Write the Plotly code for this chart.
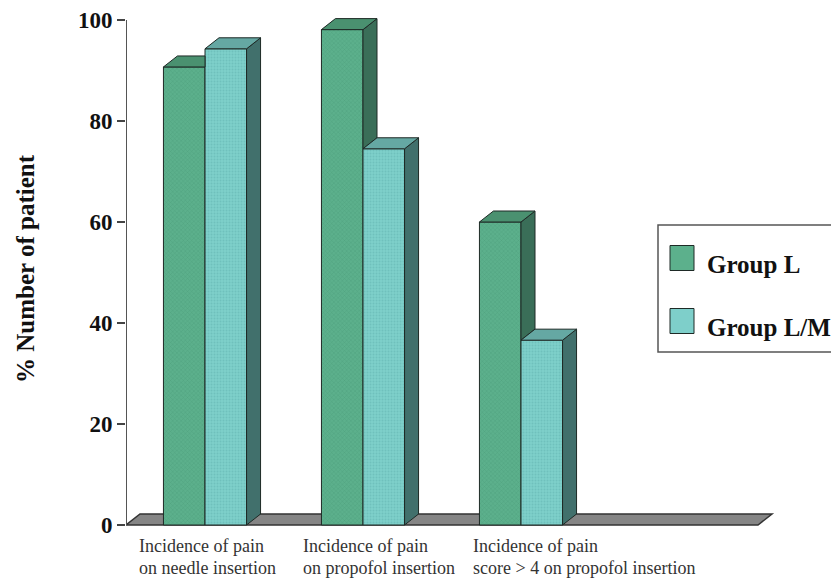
import plotly.graph_objects as go

# ---- data ----
categories = [
    ["Incidence of pain", "on needle insertion"],
    ["Incidence of pain", "on propofol insertion"],
    ["Incidence of pain", "score > 4 on propofol insertion"],
]
series_names = ["Group L", "Group L/M"]
group_l = [90.7, 98.1, 60.0]
group_lm = [94.3, 74.5, 36.6]
y_ticks = [0, 20, 40, 60, 80, 100]
y_title = "% Number of patient"

# ---- geometry / style ----
W, H = 831, 579
ML, MR, MT, MB = 126, 31, 5, 44
PW, PH = W - ML - MR, H - MT - MB
SLOT_PX = 158.0                      # pixels per category slot
PX_PER_UNIT = 5.05                   # pixels per percentage point
X0 = -0.5
X_RANGE = [X0, X0 + PW / SLOT_PX]
Y_RANGE = [-(PH - 520) / PX_PER_UNIT, 520 / PX_PER_UNIT]
BARGAP = 0.474
BAR_W = (1 - BARGAP) / 2             # width of one bar in category units
DX = 14 / SLOT_PX                    # oblique depth offset (x)
DY = 11 / PX_PER_UNIT                # oblique depth offset (y)
N_SLOTS = 4

FRONT = ["#5cb08c", "#7ecfca"]
TOP = ["#4a9170", "#65a8a3"]
SIDE = ["#3a6e58", "#41706c"]
EDGE = "#1e2a26"
SERIF = "Liberation Serif"
label_left = [-0.43, 0.608, 1.684]   # left edge of each category caption (x units)
caption_rows = [546, 568]            # vertical centre of each caption line (px)


def px_x(p):
    return (p - ML) / PW


def px_y(p):
    return (H - MB - p) / PH


def face(xs, ys, color):
    return go.Scatter(
        x=xs + [xs[0]], y=ys + [ys[0]], mode="lines", fill="toself",
        fillcolor=color, line=dict(color=EDGE, width=1),
        hoverinfo="skip", showlegend=False,
    )


fig = go.Figure()

# front faces of the bars
patterns = [dict(shape="x", size=3, solidity=0.25, fgcolor="#3f8d6c"),
            dict(shape=".", size=3, solidity=0.35, fgcolor="#5fb3ae")]
for name, vals, col, pat in zip(series_names, [group_l, group_lm], FRONT, patterns):
    fig.add_trace(go.Bar(
        x=list(range(len(vals))), y=vals, name=name,
        marker=dict(color=col, line=dict(color=EDGE, width=1), pattern=pat),
        showlegend=False,
    ))

# oblique top and side faces computed from the values
for i, (a, b) in enumerate(zip(group_l, group_lm)):
    c = i
    # Group L (left bar)
    if b > a:
        fig.add_trace(face([c - BAR_W, c, c, c - BAR_W + DX],
                           [a, a, a + DY, a + DY], TOP[0]))
    else:
        fig.add_trace(face([c, c, c + DX, c + DX],
                           [b, a, a + DY, b + DY], SIDE[0]))
        fig.add_trace(face([c - BAR_W, c, c + DX, c - BAR_W + DX],
                           [a, a, a + DY, a + DY], TOP[0]))
    # Group L/M (right bar)
    r = c + BAR_W
    fig.add_trace(face([r, r, r + DX, r + DX], [0, b, b + DY, DY], SIDE[1]))
    fig.add_trace(face([c, r, r + DX, c + DX], [b, b, b + DY, b + DY], TOP[1]))

shapes = []
# floor slab
fx0, fx1 = X0, X0 + N_SLOTS
shapes.append(dict(
    type="path", xref="x", yref="y", layer="below",
    path=f"M {fx0},0 L {fx1},0 L {fx1 + DX},{DY} L {fx0 + DX},{DY} Z",
    fillcolor="#858585", line=dict(color="#333333", width=1.5),
))
# value axis line
shapes.append(dict(type="line", xref="x", yref="y", x0=X0, x1=X0,
                   y0=y_ticks[0], y1=y_ticks[-1],
                   line=dict(color="#555555", width=2), layer="below"))

# legend box
shapes.append(dict(type="rect", xref="paper", yref="paper",
                   x0=px_x(658), x1=px_x(845), y0=px_y(352), y1=px_y(225),
                   line=dict(color="#555555", width=1.5), fillcolor="white"))
annotations = []
for k, (name, col, yc) in enumerate(zip(series_names, FRONT, [258, 321])):
    shapes.append(dict(type="rect", xref="paper", yref="paper",
                       x0=px_x(670), x1=px_x(694),
                       y0=px_y(yc + 12.5), y1=px_y(yc - 12.5),
                       fillcolor=col, line=dict(color=EDGE, width=1)))
    annotations.append(dict(
        xref="paper", yref="paper", x=px_x(705), y=px_y(yc + 6),
        xanchor="left", yanchor="middle", showarrow=False, text=name,
        font=dict(family=SERIF, size=25, color="#111111", weight="bold"),
    ))

# category captions, one annotation per line
for lines, xl in zip(categories, label_left):
    for line, yc in zip(lines, caption_rows):
        annotations.append(dict(
            xref="x", yref="paper", x=xl, y=px_y(yc),
            xanchor="left", yanchor="middle", align="left", showarrow=False,
            text=line, font=dict(family=SERIF, size=18, color="#333333"),
        ))

# value-axis title
annotations.append(dict(
    xref="paper", yref="paper", x=px_x(25), y=px_y(268),
    xanchor="center", yanchor="middle", textangle=-90, showarrow=False,
    text=y_title, font=dict(family=SERIF, size=25, color="#111111", weight="bold"),
))

fig.update_layout(
    width=W, height=H,
    margin=dict(l=ML, r=MR, t=MT, b=MB),
    paper_bgcolor="white", plot_bgcolor="white",
    barmode="group", bargap=BARGAP, bargroupgap=0,
    xaxis=dict(range=X_RANGE, showgrid=False, zeroline=False, showline=False,
               showticklabels=False, ticks=""),
    yaxis=dict(range=Y_RANGE, tickvals=y_ticks, showgrid=False, zeroline=False,
               showline=False, ticks="outside", ticklen=8, tickwidth=1.5,
               tickcolor="#444444",
               tickfont=dict(family=SERIF, size=23, color="#111111", weight="bold")),
    shapes=shapes, annotations=annotations, showlegend=False,
)

fig.write_html("out.html")
